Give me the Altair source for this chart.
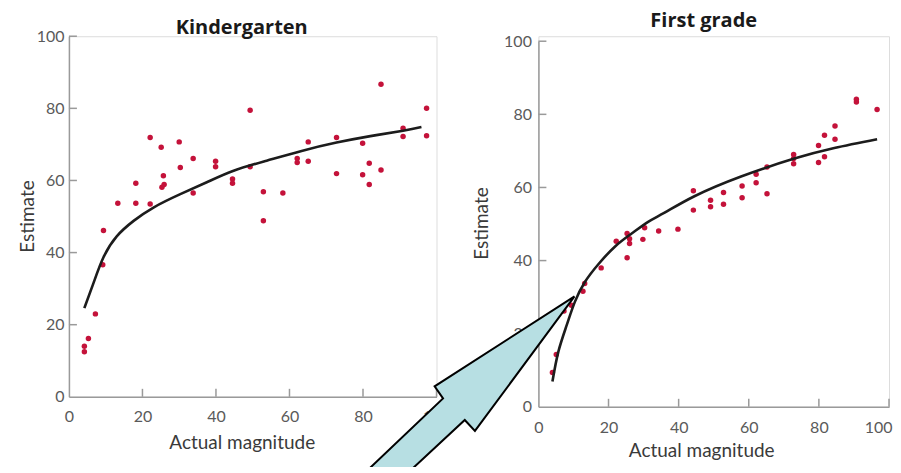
import altair as alt
import pandas as pd

# ---------------- data ----------------
kg_x = [9.4, 13.3, 18.2, 18.2, 22.1, 22.1, 25.1, 25.7, 25.3, 25.9, 30.0, 30.3, 33.8, 33.8,
        39.9, 39.9, 44.5, 44.5, 49.3, 49.3, 52.9, 52.9, 58.2, 62.1, 62.1, 65.1, 65.1, 72.8,
        72.8, 79.9, 79.9, 81.7, 81.7, 84.9, 84.9, 90.9, 90.9, 97.3, 97.3, 9.2, 7.2, 5.3, 4.2, 4.2]
kg_y = [46.1, 53.7, 59.2, 53.7, 71.9, 53.5, 69.2, 61.3, 58.1, 58.9, 70.7, 63.6, 66.1, 56.5,
        65.3, 63.8, 60.4, 59.2, 79.5, 63.8, 56.9, 48.8, 56.5, 66.1, 65.0, 70.7, 65.3, 71.9,
        61.9, 70.3, 61.6, 64.8, 58.9, 86.7, 62.9, 74.5, 72.2, 80.0, 72.4, 36.6, 23.0, 16.2, 14.0, 12.5]
kg_curve_x = [4.2, 6.7, 9.4, 13.0, 17.6, 23.0, 30.3, 37.5, 44.8, 53.8, 63.3, 72.8, 82.0, 90.9, 95.9]
kg_curve_y = [24.6, 31.6, 38.7, 44.5, 48.8, 52.5, 56.2, 59.5, 62.7, 65.5, 68.2, 70.5, 72.3, 73.8, 74.8]

g1_x = [4.0, 5.1, 7.3, 9.4, 12.7, 13.2, 17.9, 22.2, 25.3, 26.0, 26.0, 25.3, 29.8, 30.3,
        34.3, 39.8, 44.2, 44.2, 49.1, 49.1, 52.8, 52.8, 58.1, 58.1, 62.1, 62.1, 65.2, 65.2,
        72.8, 72.8, 72.8, 79.9, 79.9, 81.6, 81.6, 84.6, 84.6, 90.7, 90.7, 96.6]
g1_y = [9.4, 14.3, 26.2, 27.8, 31.6, 33.7, 38.0, 45.3, 47.4, 46.0, 44.7, 40.8, 45.8, 49.0,
        48.1, 48.6, 59.1, 53.8, 56.5, 54.7, 58.6, 55.4, 60.4, 57.2, 63.6, 61.3, 65.6, 58.3,
        69.0, 67.9, 66.5, 71.5, 66.8, 74.3, 68.4, 76.8, 73.2, 84.1, 83.4, 81.3]
g1_curve_x = [4.0, 5.7, 8.1, 10.4, 13.3, 17.1, 21.8, 26.6, 31.3, 36.0, 44.5, 57.8, 73.0, 84.4, 96.6]
g1_curve_y = [6.9, 15.1, 22.4, 28.7, 34.2, 39.0, 43.8, 47.4, 50.6, 53.1, 57.6, 63.0, 67.9, 70.8, 73.2]

# annotation arrow outline, in First-grade data units
arrow_x = [10.3, -29.6, -27.2, -49.0, -36.7, -21.0, -18.1, 10.3]
arrow_y = [30.2, 5.6, 2.3, -17.6, -17.6, -3.6, -6.6, 30.2]

tick_vals = [20, 40, 60, 80, 100]
label_vals = [0, 20, 40, 60, 80, 100]

FONT = "Lato"
TITLE_FONT = "Open Sans"
PT_COLOR = "#c4123a"
AX_COLOR = "#9a9a9a"
LBL_COLOR = "#5a5a5a"

kg_pts = pd.DataFrame({"x": kg_x, "y": kg_y})
kg_curve = pd.DataFrame({"x": kg_curve_x, "y": kg_curve_y})
g1_pts = pd.DataFrame({"x": g1_x, "y": g1_y})
g1_curve = pd.DataFrame({"x": g1_curve_x, "y": g1_curve_y})
arrow = pd.DataFrame({"x": arrow_x, "y": arrow_y, "o": list(range(len(arrow_x)))})
ticks = pd.DataFrame({"t": tick_vals})


def panel(pts, curve, w, h, yrange, title, title_dx, title_off,
          ylab_pad, xlab_pad, ytitle_x, ytitle_y, xtitle_x, xtitle_y, extra=None,
          flush_last=False):
    xs = alt.Scale(domain=[0, 100], nice=False, zero=False)
    ys = alt.Scale(domain=[0, 100], nice=False, zero=False, range=yrange)
    xkw = {}
    if flush_last:
        xkw["labelAlign"] = {"condition": {"test": "datum.value == 100", "value": "right"},
                             "value": "center"}
        xkw["labelOffset"] = {"condition": {"test": "datum.value == 100", "value": 3},
                              "value": 0}
    xax = alt.Axis(values=label_vals, ticks=False, grid=False, domainColor=AX_COLOR,
                   domainWidth=1.5, labelColor=LBL_COLOR, labelFontSize=16, labelFont=FONT,
                   labelPadding=xlab_pad, title="Actual magnitude", titleFont=FONT, titleFontSize=19,
                   titleFontWeight="normal", titleColor="#3a3a3a", titleX=xtitle_x,
                   titleY=xtitle_y, titleBaseline="alphabetic", labelFlush=False, **xkw)
    yax = alt.Axis(values=label_vals, ticks=False, grid=False, domainColor=AX_COLOR,
                   domainWidth=1.5, labelColor=LBL_COLOR, labelFontSize=16, labelFont=FONT,
                   labelPadding=ylab_pad, title="Estimate", titleFont=FONT, titleFontSize=19,
                   titleFontWeight="normal", titleColor="#3a3a3a", titleX=ytitle_x,
                   titleY=ytitle_y, titleBaseline="middle", titleAngle=270, labelFlush=False)
    base_pts = alt.Chart(pts).mark_circle(size=30, color=PT_COLOR, opacity=1).encode(
        x=alt.X("x:Q", scale=xs, axis=xax),
        y=alt.Y("y:Q", scale=ys, axis=yax),
    )
    line = alt.Chart(curve).mark_line(color="#1c1c1c", strokeWidth=2.6, interpolate="natural").encode(
        x=alt.X("x:Q", scale=xs), y=alt.Y("y:Q", scale=ys))
    ytick = alt.Chart(ticks).mark_rule(color=AX_COLOR, strokeWidth=1.5).encode(
        y=alt.Y("t:Q", scale=ys), x=alt.value(0), x2=alt.value(8))
    xtick = alt.Chart(ticks).mark_rule(color=AX_COLOR, strokeWidth=1.5).encode(
        x=alt.X("t:Q", scale=xs), y=alt.value(h), y2=alt.value(h - 8))
    layers = [ytick, xtick, base_pts, line]
    if extra is not None:
        layers.append(extra(xs, ys))
    return alt.layer(*layers).properties(
        width=w, height=h,
        title=alt.TitleParams(title, font=TITLE_FONT, fontSize=20, fontWeight="bold", color="#1a1a1a",
                              anchor="middle", dx=title_dx, offset=title_off, frame="group",
                              baseline="alphabetic"),
    )


def arrow_layer(xs, ys):
    return alt.Chart(arrow).mark_line(fill="#b7dfe3", stroke="#000000", strokeWidth=2,
                                      clip=False, strokeJoin="miter").encode(
        x=alt.X("x:Q", scale=xs), y=alt.Y("y:Q", scale=ys), order="o:Q")


left = panel(kg_pts, kg_curve, 368, 361, [361, 0], "Kindergarten", -11, -26,
             5, 12, -41, 180, 173, 52)
right = panel(g1_pts, g1_curve, 351, 371, [371, 5], "First grade", -10, -14,
              7, 13, -57, 187, 163, 50, extra=arrow_layer, flush_last=True)

chart = alt.hconcat(left, right, spacing=102, bounds="flush").properties(
    padding={"left": 10, "top": 2, "right": 0, "bottom": -9}
).configure_view(stroke=None).configure(font=FONT)

chart.save("out.html", embed_options={"renderer": "svg", "actions": False})
